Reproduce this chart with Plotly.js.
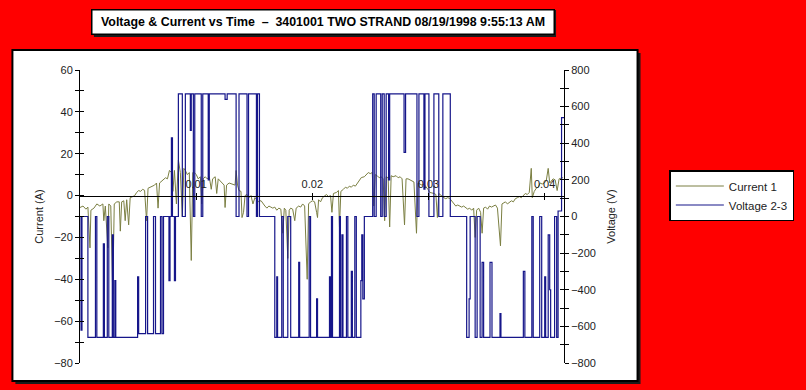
<!DOCTYPE html>
<html><head><meta charset="utf-8">
<script src="https://cdn.plot.ly/plotly-3.0.1.min.js"></script>
<style>html,body{margin:0;padding:0;background:#ff0000;} #chart{width:806px;height:390px;}</style>
</head><body><div id="chart"></div>
<script>
// ---------------- DATA ----------------
const chartTitle = 'Voltage &amp; Current vs Time\u00a0\u00a0\u2013\u00a0\u00a03401001 TWO STRAND 08/19/1998 9:55:13 AM';
const seriesNames = ['Current 1', 'Voltage 2-3'];
const xTickVals = [0.01, 0.02, 0.03, 0.04];
const xTickText = ['0.01', '0.02', '0.03', '0.04'];
const xRangeSec = [0, 0.04167];
const currentRange = [-80, 60];
const voltageRange = [-800, 800];

// Current 1 (A) vs time (ms)
const currentTimeMs = [
 0,0.26,0.51,0.68,0.86,0.94,1.20,1.45,1.71,1.97,2.05,2.18,2.40,2.48,2.65,2.82,2.95,3.17,3.38,3.47,
 3.59,3.77,3.89,4.02,4.19,4.32,4.54,4.71,4.88,5.05,5.22,5.39,5.56,5.73,5.86,6.08,6.25,6.42,6.59,6.72,
 6.85,7.02,7.19,7.36,7.53,7.70,7.87,8.00,8.13,8.30,8.47,8.64,8.81,8.94,9.07,9.24,9.41,9.58,9.71,9.84,
 10.01,10.18,10.36,10.48,10.61,10.78,10.95,11.13,11.30,11.42,11.64,11.77,11.90,12.07,12.24,12.41,12.49,12.62,12.84,13.09,
 13.35,13.44,13.56,13.69,13.86,13.95,14.08,14.21,14.38,14.55,14.72,14.89,15.06,15.23,15.40,15.58,15.75,15.92,16.09,16.26,
 16.43,16.60,16.77,16.94,17.12,17.29,17.46,17.59,17.72,17.89,18.01,18.14,18.31,18.49,18.61,18.83,19.00,19.17,19.34,19.56,
 19.68,19.85,20.03,20.20,20.37,20.45,20.54,20.71,20.88,21.05,21.22,21.40,21.57,21.69,21.82,22.08,22.25,22.34,22.46,22.68,
 22.85,23.02,23.19,23.36,23.53,23.71,23.88,24.05,24.22,24.48,24.65,24.82,24.99,25.16,25.29,25.42,25.59,25.76,25.93,26.10,
 26.23,26.36,26.53,26.66,26.79,26.96,27.21,27.39,27.56,27.73,27.94,28.07,28.24,28.41,28.58,28.75,28.97,29.10,29.27,29.44,
 29.61,29.78,29.95,30.12,30.30,30.47,30.64,30.77,30.89,31.07,31.32,31.49,31.66,31.84,32.01,32.18,32.35,32.52,32.69,32.86,
 33.03,33.21,33.38,33.55,33.72,33.89,34.02,34.15,34.32,34.49,34.62,34.75,34.92,35.09,35.26,35.43,35.60,35.77,35.94,36.20,
 36.33,36.46,36.63,36.80,36.97,37.14,37.31,37.48,37.66,37.83,38.00,38.17,38.34,38.51,38.68,38.85,38.94,39.11,39.28,39.45,
 39.62,39.79,39.97,40.14,40.31,40.44,40.56,40.73,40.91,41.08,41.25,41.42,41.59
];
const currentAmps = [
 -5.7,-5.0,-6.5,-5.5,-25,-7,-6,-4,-5,-4,-12,-5,-25,-4,-5,-47,-4,-3,-3,-17,
 -3,-2.5,-12,-2,-14,-1,-0.5,0,1.5,2.4,2,3,2.5,-12,3.5,4,4.5,5,6,-6,
 6,7,7.5,8.5,8,12,11,2,12,-4,17,11,-10,13,12,10,11,-31,11,11,
 10,8,9,-4,8,9,8,9,3,8,9,1,8,7,6,5,-5.7,5,6,5.5,
 5,12,5,2.4,2,-10.5,-8,0,0.5,-1,0,-4,-1,-2,-3,-2.4,-4,-5,-6,-5,
 -5.5,-6,-5.5,-7,-6,-6.5,-18,-6,-7,-30,-7,-6,-6.5,-12,-6,-5,-5.5,-4,-5,-40,
 -4,-3,-2.5,-3,-8,-10.5,-2,-3,-1,0,0.5,-0.5,0,-8,1,1.5,2.4,-15,2,3,
 4,3.5,4.5,4,5,4.5,6,7,8.6,9,10,11,10.5,11,-5,10,9.5,8.5,9,8,
 -12,9,8.5,-15,9.5,9,9.5,8.5,9,8,-14,8,8,7.5,7,6.5,-18,6,5.5,5,
 5.5,4.5,3,1.5,1.4,1,0.5,-10.5,1,0,-1,-1.5,-1,-1.4,-2.5,-4,-5,-4.5,-5,-5.5,
 -5,-6,-6.5,-6,-7,-6,-20,-7,-6,-8,-18,-6,-5.5,-6.5,-5,-5.5,-5,-4.5,-6,-24,
 -4,-3.5,-3,-4,-3,-2.5,-3,-1.5,-1,-0.5,-1,0,1,0.5,1.5,13,-1,2,3.5,4,
 6,5.5,6,7,13,6,7,8,7.5,2.4,8,8.5,8.6
];

// Voltage 2-3 (V) vs time (ms); each value holds until the next time
const voltageTimeMs = [
 0,0.09,0.17,0.68,1.33,1.45,2.01,2.10,2.35,2.48,2.78,2.87,3.00,3.08,4.96,5.05,5.65,5.82,6.33,6.50,
 6.93,7.06,7.19,7.66,7.75,7.87,7.96,8.13,8.22,8.47,8.81,9.07,9.50,9.58,9.76,9.88,10.44,10.57,11.04,11.13,
 12.49,12.67,13.44,13.69,14.38,14.51,15.19,15.28,15.45,16.77,16.94,17.01,17.37,17.50,17.89,18.14,18.83,18.91,19.73,19.85,
 20.37,20.45,21.48,21.57,21.65,21.74,22.34,22.42,22.55,22.64,22.94,23.06,23.36,23.45,23.66,23.79,24.18,24.26,24.35,24.48,
 25.20,25.33,25.50,25.89,26.02,26.19,26.36,26.57,26.66,27.90,28.03,29.01,29.18,29.61,29.70,30.04,30.47,30.89,31.24,31.88,
 33.29,33.50,33.59,34.02,34.19,34.45,34.62,34.75,35.30,35.47,36.16,36.24,38.17,38.30,38.90,39.02,39.58,39.75,40.01,40.09,
 40.31,40.44,40.52,40.86,41.04,41.16,41.46,41.67
];
const voltageVolts = [
 0,-620,0,-660,0,-660,-150,-660,0,-660,-100,-660,-350,-660,-330,-640,0,-640,0,-640,
 0,-640,0,-350,0,430,0,-350,0,670,0,670,470,670,0,670,0,670,200,670,
 640,670,0,670,0,670,0,670,0,-660,-330,-660,0,-660,0,-660,-250,-660,0,-660,
 -450,-660,-330,-660,0,-660,0,-660,-100,-660,0,-660,-300,-660,0,-660,-350,-100,-450,0,
 670,0,670,0,670,0,670,200,670,350,670,0,670,150,670,0,670,0,670,0,
 -660,-450,0,-660,0,-660,-250,-660,-250,-660,-530,-660,-300,-660,0,-660,0,-660,-330,-660,
 -100,-400,-660,0,-660,30,540,540
];

// ---------------- STYLE / LAYOUT ----------------
const plotL = 80, plotR = 567, plotT = 70, plotB = 363;
const W = 806, H = 390;
const pxX = x => (x - plotL) / (plotR - plotL);
const pxY = y => (plotB - y) / (plotB - plotT);
const axisFont = {family: 'Liberation Sans, Arial, sans-serif', size: 11, color: '#222'};
const xPos = (0 - currentRange[0]) / (currentRange[1] - currentRange[0]);

const traces = [
 {x: currentTimeMs.map(t => t / 1000), y: currentAmps, name: seriesNames[0], type: 'scatter', mode: 'lines',
  line: {color: '#7b7f42', width: 1}, xaxis: 'x', yaxis: 'y'},
 {x: voltageTimeMs.map(t => t / 1000), y: voltageVolts, name: seriesNames[1], type: 'scatter', mode: 'lines',
  line: {color: '#16168a', width: 1.2, shape: 'hv'}, xaxis: 'x', yaxis: 'y2'},
 {x: [null], y: [null], xaxis: 'x2', yaxis: 'y', showlegend: false, hoverinfo: 'skip', mode: 'markers'},
 {x: [null], y: [null], xaxis: 'x', yaxis: 'y3', showlegend: false, hoverinfo: 'skip', mode: 'markers'},
 {x: [null], y: [null], xaxis: 'x', yaxis: 'y4', showlegend: false, hoverinfo: 'skip', mode: 'markers'}
];

const commonAx = {showgrid: false, zeroline: false, fixedrange: true, tickcolor: '#000', linecolor: '#000', linewidth: 1};

const layout = {
 width: W, height: H,
 margin: {l: plotL, r: W - plotR, t: plotT, b: H - plotB, pad: 0},
 paper_bgcolor: '#ff0000', plot_bgcolor: 'rgba(0,0,0,0)',
 showlegend: true, hovermode: false,
 xaxis: Object.assign({}, commonAx, {range: xRangeSec, anchor: 'free', position: xPos, side: 'top',
   tickmode: 'array', tickvals: xTickVals, ticktext: xTickText, ticks: 'outside', ticklen: 3,
   showline: true, tickfont: axisFont}),
 xaxis2: Object.assign({}, commonAx, {range: xRangeSec, overlaying: 'x', anchor: 'free', position: xPos, side: 'top',
   tickmode: 'array', tickvals: xTickVals, ticks: 'inside', ticklen: 3, showticklabels: false, showline: false}),
 yaxis: Object.assign({}, commonAx, {range: currentRange, dtick: 20, tick0: 0, ticks: 'outside', ticklen: 4,
   minor: {dtick: 10, tick0: 0, ticks: 'outside', ticklen: 4, tickcolor: '#000'},
   showline: true, tickfont: axisFont,
   title: {text: 'Current (A)', font: axisFont, standoff: 8}}),
 yaxis3: Object.assign({}, commonAx, {range: currentRange, overlaying: 'y', dtick: 20, tick0: 0, ticks: 'inside', ticklen: 4,
   minor: {dtick: 10, tick0: 0, ticks: 'inside', ticklen: 4, tickcolor: '#000'},
   showline: false, showticklabels: false}),
 yaxis2: Object.assign({}, commonAx, {range: voltageRange, overlaying: 'y', side: 'right', dtick: 200, tick0: 0,
   ticks: 'outside', ticklen: 4, minor: {dtick: 100, tick0: 0, ticks: 'outside', ticklen: 4, tickcolor: '#000'},
   showline: true, tickfont: axisFont,
   title: {text: 'Voltage (V)', font: axisFont, standoff: 12}}),
 yaxis4: Object.assign({}, commonAx, {range: voltageRange, overlaying: 'y', side: 'right', dtick: 200, tick0: 0,
   ticks: 'inside', ticklen: 4, minor: {dtick: 100, tick0: 0, ticks: 'inside', ticklen: 4, tickcolor: '#000'},
   showline: false, showticklabels: false}),
 legend: {x: pxX(673), y: pxY(170), xanchor: 'left', yanchor: 'top', bgcolor: '#ffffff',
   bordercolor: '#000', borderwidth: 1.5, itemwidth: 48,
   font: {family: 'Liberation Sans, Arial, sans-serif', size: 11.5, color: '#222'},
   tracegroupgap: 0},
 shapes: [
  {type: 'rect', xref: 'paper', yref: 'paper', layer: 'below', x0: pxX(15), x1: pxX(644), y0: pxY(384), y1: pxY(53),
   fillcolor: '#1a1a1a', line: {width: 0}},
  {type: 'rect', xref: 'paper', yref: 'paper', layer: 'below', x0: pxX(12), x1: pxX(641), y0: pxY(381), y1: pxY(50),
   fillcolor: '#ffffff', line: {color: '#000', width: 2}},
  {type: 'rect', xref: 'paper', yref: 'paper', layer: 'below', x0: pxX(94), x1: pxX(559), y0: pxY(37), y1: pxY(10),
   fillcolor: '#1a1a1a', line: {width: 0}}
 ],
 annotations: [
  {xref: 'paper', yref: 'paper', x: pxX(324.5), y: pxY(21.5), xanchor: 'center', yanchor: 'middle',
   text: '<b>' + chartTitle + '</b>', showarrow: false, width: 461, height: 23,
   bgcolor: '#ffffff', bordercolor: '#000', borderwidth: 1.5, borderpad: 0,
   font: {family: 'Liberation Sans, Arial, sans-serif', size: 12.4, color: '#000'}}
 ]
};

Plotly.newPlot('chart', traces, layout, {staticPlot: true, displayModeBar: false});
</script></body></html>
